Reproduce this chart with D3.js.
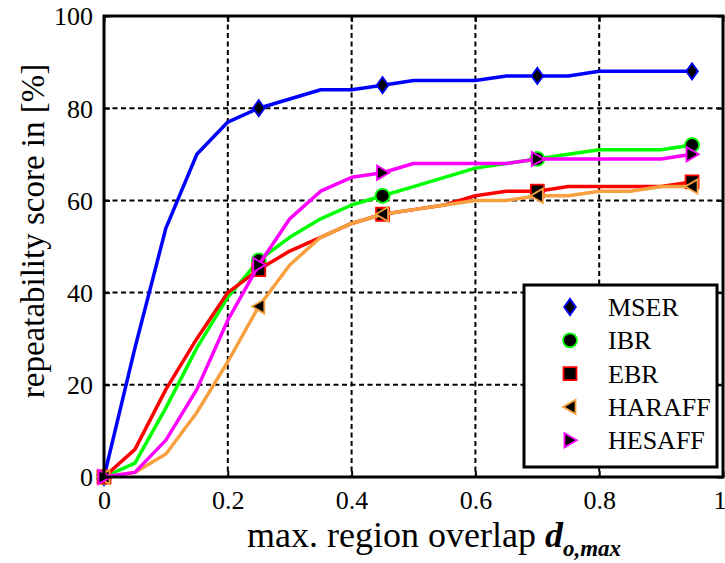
<!DOCTYPE html>
<html>
<head>
<meta charset="utf-8">
<script src="https://cdn.jsdelivr.net/npm/d3@7"></script>
<style>
  html, body { margin: 0; padding: 0; background: #fff; }
  svg { display: block; font-family: "Liberation Serif", "Times New Roman", serif; }
</style>
</head>
<body>
<svg id="chart" width="725" height="563"></svg>
<script>
// Overlap thresholds (x) and repeatability scores in % for each detector
const overlap = [0, 0.05, 0.1, 0.15, 0.2, 0.25, 0.3, 0.35, 0.4, 0.45,
                 0.5, 0.55, 0.6, 0.65, 0.7, 0.75, 0.8, 0.85, 0.9, 0.95];
const mser   = [0, 28, 54, 70, 77, 80, 82, 84, 84, 85, 86, 86, 86, 87, 87, 87, 88, 88, 88, 88];
const ibr    = [0, 3, 15, 28, 39, 47, 52, 56, 59, 61, 63, 65, 67, 68, 69, 70, 71, 71, 71, 72];
const ebr    = [0, 6, 19, 30, 40, 45, 49, 52, 55, 57, 58, 59, 61, 62, 62, 63, 63, 63, 63, 64];
const haraff = [0, 1, 5, 14, 25, 37, 46, 52, 55, 57, 58, 59, 60, 60, 61, 61, 62, 62, 63, 63];
const hesaff = [0, 1, 8, 19, 34, 46, 56, 62, 65, 66, 68, 68, 68, 68, 69, 69, 69, 69, 69, 70];

// Thresholds where a marker is drawn on each curve
const markerAt = [0, 0.25, 0.45, 0.7, 0.95];

const seriesNames  = ["MSER", "IBR", "EBR", "HARAFF", "HESAFF"];
const seriesValues = [mser, ibr, ebr, haraff, hesaff];
const seriesColors = ["#0000ff", "#00ff00", "#ff0000", "#f7a040", "#ff00ff"];
const seriesShapes = ["diamond", "circle", "square", "triLeft", "triRight"];

const xTicks = [0, 0.2, 0.4, 0.6, 0.8, 1];
const yTicks = [0, 20, 40, 60, 80, 100];

const L = 104, R = 723, T = 16, B = 477;
const x = d3.scaleLinear().domain([0, 1]).range([L, R]);
const y = d3.scaleLinear().domain([0, 100]).range([B, T]);

const svg = d3.select("#chart");

// dashed grid
const grid = svg.append("g").attr("stroke", "#000").attr("stroke-width", 2)
  .attr("stroke-dasharray", "5,3.5");
grid.selectAll("line.v").data(xTicks.slice(1, -1)).enter().append("line")
  .attr("x1", d => x(d)).attr("x2", d => x(d)).attr("y1", T).attr("y2", B);
grid.selectAll("line.h").data(yTicks.slice(1, -1)).enter().append("line")
  .attr("x1", L).attr("x2", R).attr("y1", d => y(d)).attr("y2", d => y(d));

// axes: ticks inward, labels outside
const xAxis = d3.axisBottom(x).tickValues(xTicks).tickSize(-6).tickPadding(14)
  .tickFormat(d => String(d));
const yAxis = d3.axisLeft(y).tickValues(yTicks).tickSize(-6).tickPadding(11)
  .tickFormat(d3.format("d"));

const gx = svg.append("g").attr("transform", `translate(0,${B})`).call(xAxis);
const gy = svg.append("g").attr("transform", `translate(${L},0)`).call(yAxis);
svg.append("g").attr("transform", `translate(0,${T})`)
  .call(d3.axisTop(x).tickValues(xTicks).tickSize(-6).tickFormat(""));
svg.append("g").attr("transform", `translate(${R},0)`)
  .call(d3.axisRight(y).tickValues(yTicks).tickSize(-6).tickFormat(""));
svg.selectAll(".domain").remove();
svg.selectAll(".tick line").attr("stroke", "#000").attr("stroke-width", 2);
[gx, gy].forEach(g => g.selectAll("text")
  .attr("font-family", "Liberation Serif, serif").attr("font-size", 26).attr("fill", "#000"));
gy.selectAll("text").attr("dy", "0.34em");
// the last x label sits at the window edge: keep it inside
gx.selectAll("text").filter(d => d === 1).attr("text-anchor", "end").attr("dx", 3);

// marker symbols
function markerPath(shape, s) {
  switch (shape) {
    case "diamond": return `M0,${-s * 1.25}L${s * 0.9},0L0,${s * 1.25}L${-s * 0.9},0Z`;
    case "square": return `M${-s},${-s}H${s}V${s}H${-s}Z`;
    case "triLeft": return `M${-s * 1.05},0L${s * 0.85},${-s * 1.1}L${s * 0.85},${s * 1.1}Z`;
    case "triRight": return `M${s * 1.05},0L${-s * 0.85},${-s * 1.1}L${-s * 0.85},${s * 1.1}Z`;
  }
  return "";
}
function drawMarker(g, shape, color, cx, cy) {
  if (shape === "circle") {
    g.append("circle").attr("cx", cx).attr("cy", cy).attr("r", 7)
      .attr("fill", "#000").attr("stroke", color).attr("stroke-width", 1.8);
  } else {
    g.append("path").attr("d", markerPath(shape, 6.5))
      .attr("transform", `translate(${cx},${cy})`)
      .attr("fill", "#000").attr("stroke", color).attr("stroke-width", 1.8)
      .attr("stroke-linejoin", "miter");
  }
}

// curves with markers
const line = d3.line().x(d => x(d[0])).y(d => y(d[1]));
seriesValues.forEach((vals, i) => {
  const g = svg.append("g");
  const pts = overlap.map((o, k) => [o, vals[k]]);
  g.append("path").datum(pts).attr("d", line)
    .attr("fill", "none").attr("stroke", seriesColors[i]).attr("stroke-width", 3.5)
    .attr("stroke-linejoin", "round");
  markerAt.forEach(m => {
    const k = overlap.indexOf(m);
    drawMarker(g, seriesShapes[i], seriesColors[i], x(overlap[k]), y(vals[k]));
  });
});

// frame
svg.append("rect").attr("x", L).attr("y", T).attr("width", R - L).attr("height", B - T)
  .attr("fill", "none").attr("stroke", "#000").attr("stroke-width", 3);

// legend
const lg = svg.append("g");
lg.append("rect").attr("x", 524).attr("y", 285).attr("width", 193).attr("height", 182)
  .attr("fill", "#fff").attr("stroke", "#000").attr("stroke-width", 3);
seriesNames.forEach((name, i) => {
  const cy = 307 + i * 33.3;
  drawMarker(lg, seriesShapes[i], seriesColors[i], 570, cy);
  lg.append("text").attr("x", 608).attr("y", cy).attr("dy", "0.35em")
    .attr("font-size", 26).attr("fill", "#000").text(name);
});

// axis titles
svg.append("text")
  .attr("transform", "translate(44,231) rotate(-90)")
  .attr("text-anchor", "middle").attr("font-size", 33).attr("fill", "#000")
  .text("repeatability score in [%]");

const xt = svg.append("text").attr("x", 247).attr("y", 547)
  .attr("font-size", 36).attr("fill", "#000");
xt.append("tspan").text("max. region overlap ");
xt.append("tspan").attr("font-weight", "bold").attr("font-style", "italic").text("d");
xt.append("tspan").attr("font-weight", "bold").attr("font-style", "italic")
  .attr("font-size", 23).attr("dy", 9).text("o,max");
</script>
</body>
</html>
